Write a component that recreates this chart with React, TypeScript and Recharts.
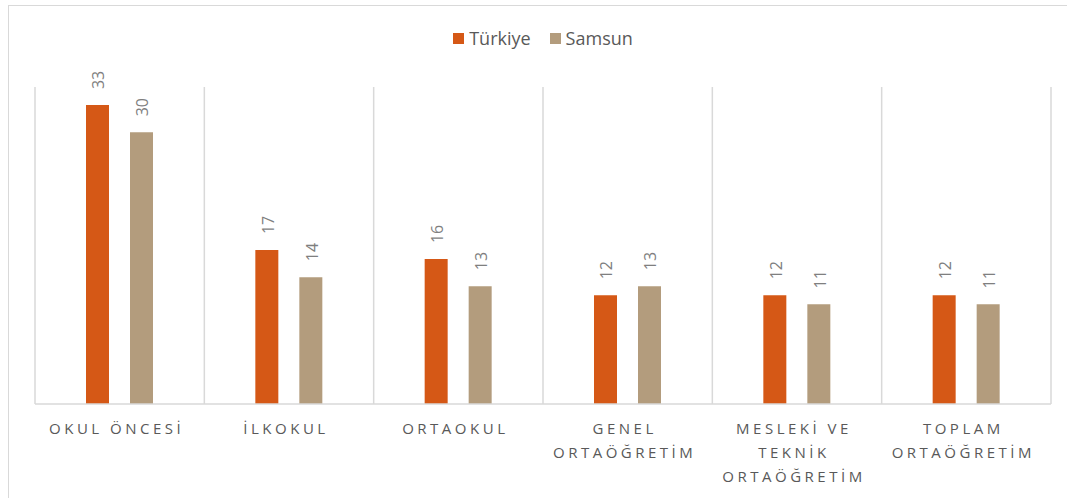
import { Bar, BarChart, CartesianGrid, LabelList, Legend, XAxis, YAxis } from 'recharts';

const categories = [
  'OKUL ÖNCESİ',
  'İLKOKUL',
  'ORTAOKUL',
  'GENEL ORTAÖĞRETİM',
  'MESLEKİ VE TEKNİK ORTAÖĞRETİM',
  'TOPLAM ORTAÖĞRETİM',
];
const turkiye = [33, 17, 16, 12, 12, 12];
const samsun = [30, 14, 13, 13, 11, 11];
const seriesNames = ['Türkiye', 'Samsun'];
const seriesColors = ['#d55816', '#b39c7d'];

const data = categories.map((name, i) => ({
  name,
  turkiye: turkiye[i],
  samsun: samsun[i],
}));

const FONT = '"Open Sans", "Noto Sans", sans-serif';

// crude word wrap, letter-spaced caps are about 12px each
const wrap = (label: string, maxChars = 14) => {
  const lines: string[] = [];
  let cur = '';
  for (const w of label.split(' ')) {
    const next = cur ? `${cur} ${w}` : w;
    if (next.length > maxChars && cur) {
      lines.push(cur);
      cur = w;
    } else {
      cur = next;
    }
  }
  if (cur) lines.push(cur);
  return lines;
};

const CategoryTick = ({ x, y, payload }: any) => {
  const lines = wrap(payload.value);
  return (
    <text
      x={x}
      y={y}
      textAnchor="middle"
      fill="#595959"
      fontSize={15}
      fontFamily={FONT}
      style={{ letterSpacing: 3.5 }}
    >
      {lines.map((l, i) => (
        <tspan key={i} x={x - 3} dy={i === 0 ? 22 : 24}>
          {l}
        </tspan>
      ))}
    </text>
  );
};

const ValueLabel = ({ x, y, width, value }: any) => {
  const cx = x + width / 2 + 1;
  const cy = y - 16;
  return (
    <text
      x={cx}
      y={cy}
      transform={`rotate(-90 ${cx} ${cy})`}
      textAnchor="start"
      dominantBaseline="central"
      fill="#7f7f7f"
      fontSize={16}
      fontFamily={FONT}
    >
      {value}
    </text>
  );
};

const LegendBox = () => (
  <div
    style={{
      display: 'flex',
      justifyContent: 'center',
      gap: 19,
      fontFamily: FONT,
      fontSize: 18,
      color: '#595959',
      height: 22,
      lineHeight: '22px',
    }}
  >
    {seriesNames.map((n, i) => (
      <span key={n} style={{ display: 'flex', alignItems: 'center' }}>
        <span
          style={{
            display: 'inline-block',
            width: 11,
            height: 11,
            background: seriesColors[i],
            marginRight: 5,
          }}
        />
        {n}
      </span>
    ))}
  </div>
);

const bandLines = ({ offset }: any) => {
  const step = offset.width / categories.length;
  return categories.map((_, i) => offset.left + i * step).concat(offset.left + offset.width);
};

export default function App() {
  return (
    <div
      style={{
        position: 'fixed',
        left: 8,
        top: 5,
        width: 1059,
        height: 493,
        overflow: 'hidden',
        borderLeft: '1.5px solid #d9d9d9',
        borderTop: '1.5px solid #d9d9d9',
        background: '#fff',
        boxSizing: 'border-box',
      }}
    >
      <BarChart
        width={1059}
        height={493}
        data={data}
        barSize={23}
        barGap={21}
        margin={{ top: 59, right: 17, bottom: 5, left: 26 }}
      >
        <CartesianGrid
          horizontal={false}
          stroke="#d9d9d9"
          strokeWidth={1.5}
          verticalCoordinatesGenerator={bandLines}
        />
        <XAxis
          dataKey="name"
          interval={0}
          height={90}
          tickLine={false}
          axisLine={{ stroke: '#d9d9d9', strokeWidth: 1.5 }}
          tick={<CategoryTick />}
        />
        <YAxis hide domain={[0, 35]} />
        <Legend verticalAlign="top" wrapperStyle={{ top: 21 }} content={<LegendBox />} />
        <Bar dataKey="turkiye" name={seriesNames[0]} fill={seriesColors[0]} isAnimationActive={false}>
          <LabelList dataKey="turkiye" content={<ValueLabel />} />
        </Bar>
        <Bar dataKey="samsun" name={seriesNames[1]} fill={seriesColors[1]} isAnimationActive={false}>
          <LabelList dataKey="samsun" content={<ValueLabel />} />
        </Bar>
      </BarChart>
    </div>
  );
}
